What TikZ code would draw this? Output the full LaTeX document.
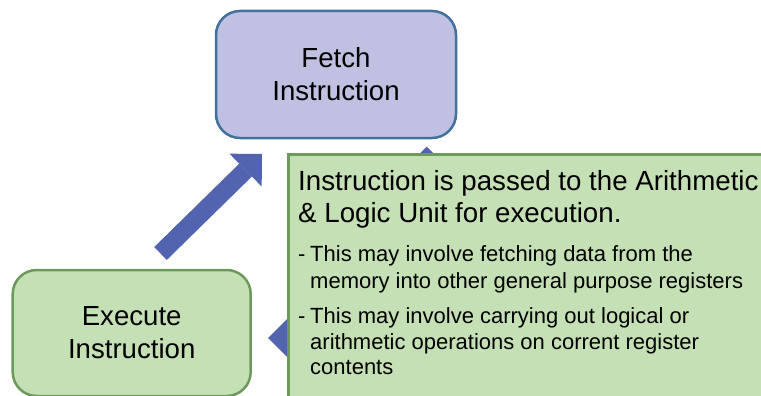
\documentclass[tikz,border=0pt]{standalone}
\usepackage{fontspec}
\setmainfont{Liberation Sans}
\usetikzlibrary{arrows.meta}
\definecolor{fetchfill}{RGB}{192,192,226}
\definecolor{fetchline}{RGB}{65,113,156}
\definecolor{greenfill}{RGB}{197,224,180}
\definecolor{greenline}{RGB}{108,154,92}
\definecolor{flow}{RGB}{82,99,175}
\begin{document}
\begin{tikzpicture}[x=1pt,y=-1pt,
  stage/.style={rounded corners=24pt, line width=2.5pt, minimum width=240pt,
    minimum height=127pt, align=center, inner sep=0pt,
    font=\fontsize{27.6}{33}\selectfont},
  bigarrow/.style={draw=flow, line width=18pt,
    -{Triangle[length=23pt,width=46pt,line width=0pt]}},
  mainline/.style={anchor=base west, inner sep=0pt, font=\fontsize{27.7}{33}\selectfont},
  subline/.style={anchor=base west, inner sep=0pt, font=\fontsize{22}{26}\selectfont}]
\useasboundingbox (0,0) rectangle (761,396);
\clip (0,0) rectangle (761,396);

% the two visible stages of the cycle
\node[stage, fill=fetchfill, draw=fetchline] (fetch) at (336,74.5) {Fetch\\Instruction};
\node[stage, fill=greenfill, draw=greenline, minimum width=238pt, minimum height=126pt]
  (exec) at (131.7,333) {Execute\\Instruction};

% cycle arrows
\coordinate (execOut) at (160.5,253.5);
\coordinate (fetchIn) at (262,154);
\draw[bigarrow] (execOut) -- (fetchIn);

\coordinate (decodeUp) at (426.7,262);
\coordinate (fetchBelow) at (426.7,146.7);
\draw[bigarrow] (decodeUp) -- (fetchBelow);

\coordinate (decodeLeft) at (420,338);
\coordinate (execRight) at (268,338);
\draw[bigarrow] (decodeLeft) -- (execRight);

% explanatory panel laid over the decode stage
\node[draw=greenline, fill=greenfill, line width=2.5pt, anchor=north west,
  minimum width=500pt, minimum height=270pt, inner sep=0pt] (note) at (287,153) {};

\node[mainline] (t1) at (298,190) {Instruction is passed to the Arithmetic};
\node[mainline] (t2) at (298,222.7) {\& Logic Unit for execution.};
\node[subline] (b1a) at (310,261.7) {\llap{\makebox[12pt][l]{-}}This may involve fetching data from the};
\node[subline] (b1b) at (310,288.3) {memory into other general purpose registers};
\node[subline] (b2a) at (310,323.3) {\llap{\makebox[12pt][l]{-}}This may involve carrying out logical or};
\node[subline] (b2b) at (310,349) {arithmetic operations on corrent register};
\node[subline] (b2c) at (310,374) {contents};
\end{tikzpicture}
\end{document}
